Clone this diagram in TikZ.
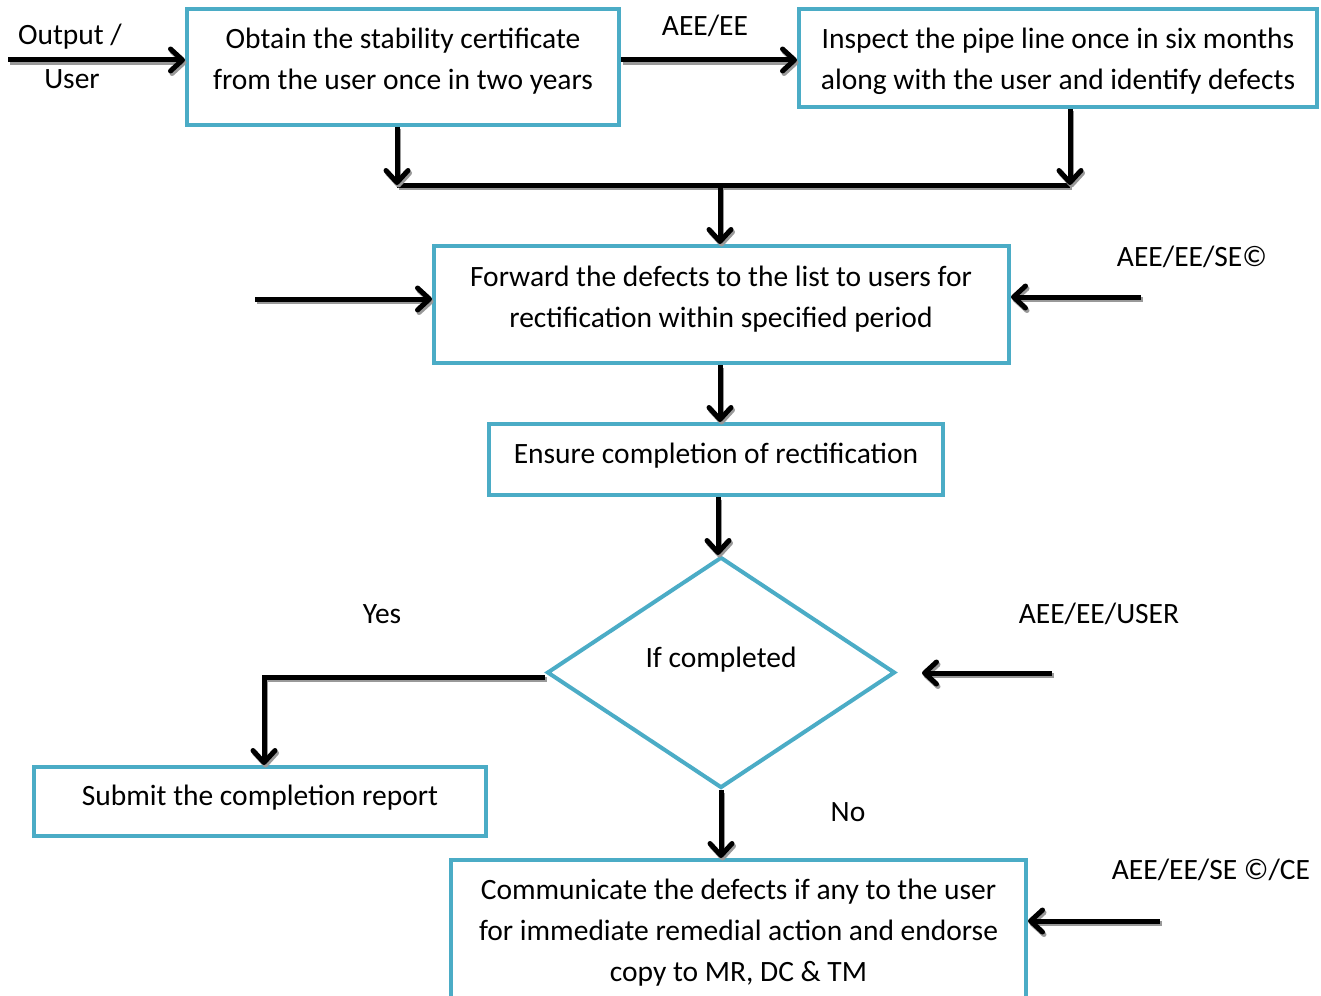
\documentclass[tikz,border=0pt]{standalone}
\usepackage{fontspec}
\setmainfont{Carlito}
\usetikzlibrary{arrows.meta,shapes.geometric}
\definecolor{boxblue}{HTML}{4BACC6}
\newcommand\cdraw[2]{%
  \begin{scope}[transform canvas={shift={(1.5pt,-2.5pt)}}]
    \draw[#1,draw=black!40] #2;
  \end{scope}
  \draw[#1] #2;}
\begin{document}
\begin{tikzpicture}[x=1pt,y=-1pt,
  every node/.style={font=\fontsize{29.5}{41}\selectfont},
  box/.style={draw=boxblue,line width=4pt,fill=white,inner sep=0pt},
  txt/.style={align=center,inner sep=0pt},
  conn/.style={line width=5pt,-{Straight Barb[length=12pt,width=22pt,round]}},
  plain/.style={line width=5pt}]
\useasboundingbox (0,0) rectangle (1321,995);
% boxes
\node[box,minimum width=432pt,minimum height=116pt] (B1) at (403,67) {};
\node[box,minimum width=518pt,minimum height=98pt] (B2) at (1058,58) {};
\node[box,minimum width=575pt,minimum height=117pt] (B3) at (721.5,304.5) {};
\node[box,minimum width=454pt,minimum height=71pt] (B4) at (716,459.5) {};
\node[box,shape=diamond,minimum width=348pt,minimum height=231pt] (D) at (721,672.5) {};
\node[box,minimum width=452pt,minimum height=69pt] (B5) at (260,801.5) {};
\node[box,minimum width=575pt,minimum height=150pt] (B6) at (738.5,935) {};
% texts
\node[txt] (T1) at (403,61) {Obtain the stability certificate\\from the user once in two years};
\node[txt] (T2) at (1058,61) {Inspect the pipe line once in six months\\along with the user and identify defects};
\node[txt] (T3) at (721,299) {Forward the defects to the list to users for\\rectification within specified period};
\node[txt] (T4) at (716,456) {Ensure completion of rectification};
\node[txt] (T5) at (721,660) {If completed};
\node[txt] (T6) at (260,798) {Submit the completion report};
\node[txt] (T7) at (738.5,933) {Communicate the defects if any to the user\\for immediate remedial action and endorse\\copy to MR, DC \& TM};
% labels
\node[txt] (L1) at (70,37) {Output /};
\node[txt] (L2) at (72,79) {User};
\node[txt] (L3) at (705,26) {AEE/EE};
\node[txt] (L4) at (1192,257) {AEE/EE/SE©};
\node[txt] (L5) at (382,614) {Yes};
\node[txt] (L6) at (1099,614) {AEE/EE/USER};
\node[txt] (L7) at (848,812) {No};
\node[txt] (L8) at (1211,870) {AEE/EE/SE ©/CE};
% coordinates
\coordinate (in1) at (8,60);
\coordinate (jl) at (397,185);
\coordinate (jr) at (1070,185);
\coordinate (jm) at (720,185);
\coordinate (in3) at (255,299);
\coordinate (in4) at (1141,297);
\coordinate (in5) at (1052,673);
\coordinate (e5) at (922,673);
\coordinate (yc) at (264,677);
\coordinate (in6) at (1160,921);
% connectors
\cdraw{conn}{(in1) -- (in1 -| B1.west)}
\cdraw{conn}{(B1.east |- 0,60) -- (B2.west |- 0,60)}
\cdraw{plain}{(jl) -- (jr)}
\cdraw{conn}{(B1.south -| jl) -- (jl)}
\cdraw{conn}{(B2.south -| jr) -- (jr)}
\cdraw{conn}{(jm) -- (jm |- B3.north)}
\cdraw{conn}{(in3) -- (in3 -| B3.west)}
\cdraw{conn}{(in4) -- (in4 -| B3.east)}
\cdraw{conn}{(B3.south -| 720,0) -- (720,0 |- B4.north)}
\cdraw{conn}{(B4.south -| 718,0) -- (718,0 |- D.north)}
\cdraw{conn}{(D.west |- yc) -- (yc) -- (yc |- B5.north)}
\cdraw{conn}{(D.south) -- (D.south |- B6.north)}
\cdraw{conn}{(in5) -- (e5)}
\cdraw{conn}{(in6) -- (in6 -| B6.east)}
\end{tikzpicture}
\end{document}
